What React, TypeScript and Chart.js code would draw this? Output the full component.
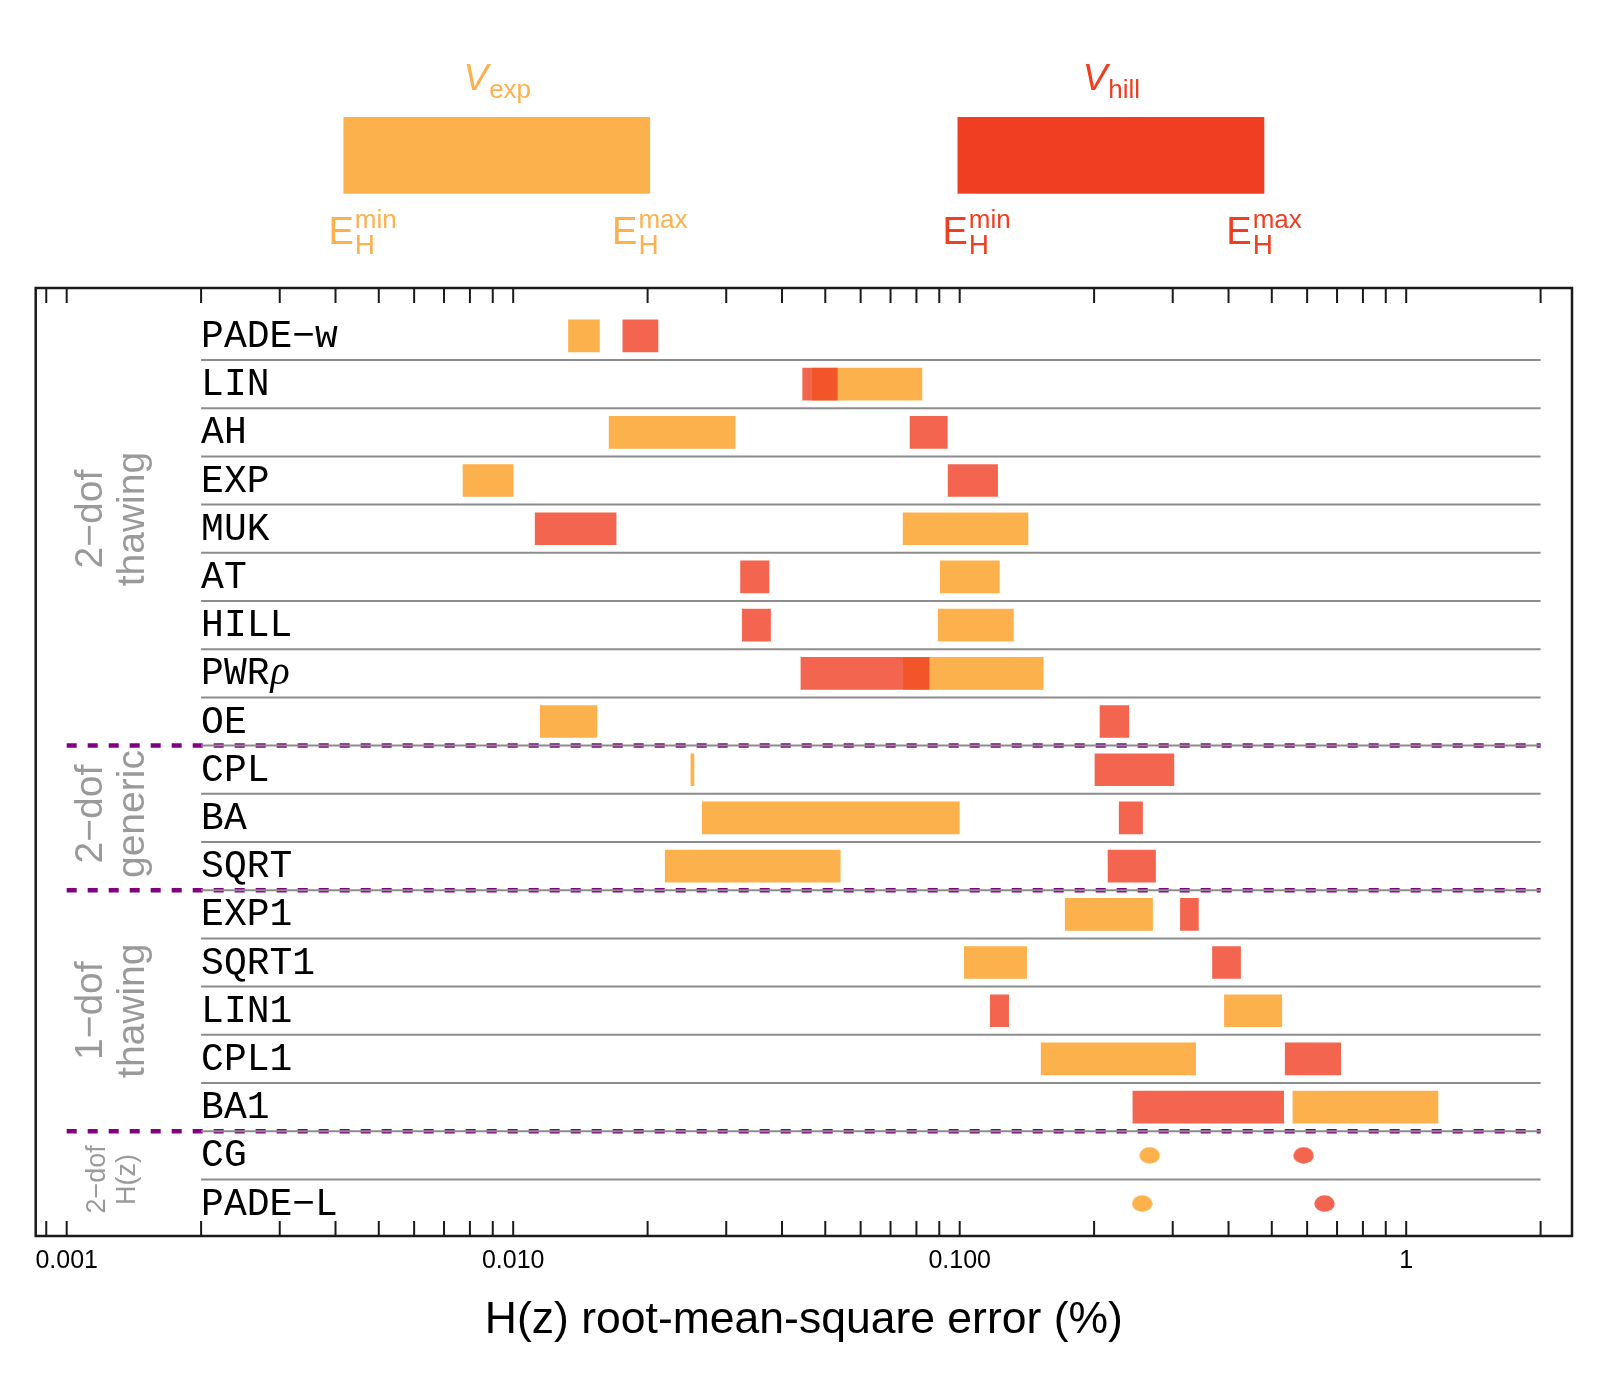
import React, { useEffect, useRef } from 'react';
import { Chart, registerables } from 'chart.js';

Chart.register(...registerables);

// ---------------- data ----------------
const categories = [
  'PADE−w', 'LIN', 'AH', 'EXP', 'MUK', 'AT', 'HILL', 'PWRρ', 'OE',
  'CPL', 'BA', 'SQRT',
  'EXP1', 'SQRT1', 'LIN1', 'CPL1', 'BA1',
  'CG', 'PADE−L',
];

// V_exp (orange) ranges [min, max] of E_H, in %
const expMin = [0.0133, 0.0468, 0.0164, 0.00772, 0.0747, 0.0905, 0.0895, 0.0748, 0.0115,
  0.0250, 0.0265, 0.0219,
  0.1723, 0.1024, 0.3916, 0.1522, 0.5575,
  null, null];
const expMax = [0.0156, 0.0823, 0.0314, 0.0100, 0.1422, 0.1227, 0.1319, 0.1538, 0.0154,
  0.0254, 0.0998, 0.0540,
  0.2703, 0.1412, 0.5264, 0.3377, 1.178,
  null, null];

// V_hill (red) ranges [min, max] of E_H, in %
const hillMin = [0.0176, 0.0445, 0.0774, 0.0942, 0.0112, 0.0323, 0.0326, 0.0441, 0.2062,
  0.2009, 0.2276, 0.2149,
  0.3121, 0.3683, 0.1171, 0.5358, 0.2443,
  null, null];
const hillMax = [0.0211, 0.0532, 0.0938, 0.1216, 0.0170, 0.0374, 0.0377, 0.0854, 0.2392,
  0.3018, 0.2567, 0.2745,
  0.3424, 0.4256, 0.1287, 0.7134, 0.5316,
  null, null];

// single-value models (drawn as dots)
const expPoint = [null, null, null, null, null, null, null, null, null, null, null, null,
  null, null, null, null, null, 0.2663, 0.2562];
const hillPoint = [null, null, null, null, null, null, null, null, null, null, null, null,
  null, null, null, null, null, 0.5892, 0.6562];

// groups (rotated labels) and dashed dividers (in row units)
const groupLines = [['2−dof', 'thawing'], ['2−dof', 'generic'], ['1−dof', 'thawing'], ['2−dof', 'H(z)']];
const groupCenters = [3.8, 9.92, 14.0, 17.5];
const groupDividers = [8.5, 11.5, 16.5];

const tickLabelValues = [0.001, 0.01, 0.1, 1];
const tickLabels = ['0.001', '0.010', '0.100', '1'];
const axisTitle = 'H(z) root-mean-square error (%)';

const X_MIN = 0.0008523;
const X_MAX = 2.3514;
const Y_MIN = -0.994;
const Y_MAX = 18.674;

const ORANGE = '#FDB14C';
const RED_SOLID = 'rgb(240,62,34)';
const RED = 'rgba(240,62,34,0.8)';

export default function App() {
  const ref = useRef<HTMLCanvasElement>(null);

  useEffect(() => {
    document.body.style.margin = '0';
    const canvas = ref.current!;

    const ellipse = (color: string) => {
      const c = document.createElement('canvas');
      c.width = 21;
      c.height = 17;
      const g = c.getContext('2d')!;
      g.fillStyle = color;
      g.beginPath();
      g.ellipse(10.5, 8.5, 10.2, 8.3, 0, 0, Math.PI * 2);
      g.fill();
      return c;
    };

    const tickValues: number[] = [0.0009];
    for (const dec of [0.001, 0.01, 0.1]) for (let k = 1; k <= 9; k++) tickValues.push(dec * k);
    tickValues.push(1, 2);

    const deco = {
      id: 'deco',
      beforeDatasetsDraw(chart: any) {
        const { ctx, chartArea: a, scales } = chart;
        const x = scales.x, y = scales.y;
        ctx.save();
        // purple dashed dividers
        ctx.strokeStyle = '#800080';
        ctx.lineWidth = 4.5;
        ctx.setLineDash([10, 11]);
        for (const d of groupDividers) {
          const py = y.getPixelForValue(d);
          ctx.beginPath();
          ctx.moveTo(x.getPixelForValue(0.001), py);
          ctx.lineTo(x.getPixelForValue(2), py);
          ctx.stroke();
        }
        ctx.setLineDash([]);
        // gray row separators
        ctx.strokeStyle = '#8c8c8c';
        ctx.lineWidth = 2;
        for (let i = 0; i < categories.length - 1; i++) {
          const py = y.getPixelForValue(i + 0.5);
          ctx.beginPath();
          ctx.moveTo(x.getPixelForValue(0.002), py);
          ctx.lineTo(x.getPixelForValue(2), py);
          ctx.stroke();
        }
        // category labels
        ctx.fillStyle = '#000';
        ctx.textAlign = 'left';
        ctx.textBaseline = 'alphabetic';
        const lx = x.getPixelForValue(0.002);
        categories.forEach((c, i) => {
          const py = y.getPixelForValue(i) + 11;
          ctx.font = '38px "Liberation Mono", monospace';
          if (c.endsWith('ρ')) {
            const base = c.slice(0, -1);
            ctx.fillText(base, lx, py);
            const w = ctx.measureText(base).width;
            ctx.font = 'italic 40px "Liberation Serif", serif';
            ctx.fillText('ρ', lx + w + 1, py);
          } else {
            ctx.fillText(c, lx, py);
          }
        });
        // group labels (rotated)
        ctx.fillStyle = '#9a9a9a';
        ctx.textAlign = 'center';
        groupLines.forEach((lines, gi) => {
          const small = gi === 3;
          const cy = y.getPixelForValue(groupCenters[gi]);
          ctx.save();
          ctx.translate(0, cy);
          ctx.rotate(-Math.PI / 2);
          ctx.font = (small ? '27px' : '39px') + ' "Liberation Sans", Arial, sans-serif';
          const b1 = a.left + (small ? 69.5 : 66.3);
          const b2 = a.left + (small ? 99.5 : 107.8);
          ctx.fillText(lines[0], 0, b1);
          ctx.fillText(lines[1], 0, b2);
          ctx.restore();
        });
        ctx.restore();
      },
      afterDraw(chart: any) {
        const { ctx, chartArea: a, scales } = chart;
        const x = scales.x;
        ctx.save();
        // frame
        ctx.strokeStyle = '#1a1a1a';
        ctx.lineWidth = 2.5;
        ctx.strokeRect(a.left, a.top, a.right - a.left, a.bottom - a.top);
        // inward ticks top and bottom
        ctx.lineWidth = 2;
        for (const v of tickValues) {
          const px = x.getPixelForValue(v);
          ctx.beginPath();
          ctx.moveTo(px, a.top);
          ctx.lineTo(px, a.top + 15);
          ctx.moveTo(px, a.bottom);
          ctx.lineTo(px, a.bottom - 15);
          ctx.stroke();
        }
        // tick labels
        ctx.fillStyle = '#000';
        ctx.textAlign = 'center';
        ctx.textBaseline = 'alphabetic';
        ctx.font = '25px "Liberation Sans", Arial, sans-serif';
        tickLabelValues.forEach((v, i) => {
          ctx.fillText(tickLabels[i], x.getPixelForValue(v), a.bottom + 32);
        });
        // axis title
        ctx.font = '44.5px "Liberation Sans", Arial, sans-serif';
        ctx.fillText(axisTitle, (a.left + a.right) / 2, a.bottom + 97);

        // legend
        const legend = [
          { color: ORANGE, box: ORANGE, sub: 'exp', l: 343.4, r: 650.1 },
          { color: RED_SOLID, box: RED_SOLID, sub: 'hill', l: 957.5, r: 1264.3 },
        ];
        for (const it of legend) {
          ctx.fillStyle = it.box;
          ctx.fillRect(it.l, 117, it.r - it.l, 76.7);
          ctx.fillStyle = it.color;
          // V_sub title
          ctx.textAlign = 'left';
          ctx.font = 'italic 37px "Liberation Sans", Arial, sans-serif';
          const wV = ctx.measureText('V').width;
          ctx.font = '26px "Liberation Sans", Arial, sans-serif';
          const wS = ctx.measureText(it.sub).width;
          const sx = (it.l + it.r) / 2 - (wV + wS) / 2;
          ctx.font = 'italic 37px "Liberation Sans", Arial, sans-serif';
          ctx.fillText('V', sx, 90);
          ctx.font = '26px "Liberation Sans", Arial, sans-serif';
          ctx.fillText(it.sub, sx + wV + 1, 98);
          // E_H^min / E_H^max
          const drawE = (x0: number, sup: string) => {
            ctx.font = '38px "Liberation Sans", Arial, sans-serif';
            ctx.fillText('E', x0, 244);
            const wE = ctx.measureText('E').width;
            ctx.font = '26px "Liberation Sans", Arial, sans-serif';
            ctx.fillText(sup, x0 + wE + 1, 228);
            ctx.font = '28px "Liberation Sans", Arial, sans-serif';
            ctx.fillText('H', x0 + wE + 1, 254);
          };
          drawE(it.l - 15, 'min');
          drawE(it.r - 38, 'max');
        }
        ctx.restore();
      },
    };

    const expBars: any[] = [];
    const hillBars: any[] = [];
    const expDots: any[] = [];
    const hillDots: any[] = [];
    categories.forEach((_, i) => {
      if (expMin[i] != null) expBars.push({ x: [expMin[i], expMax[i]], y: i });
      if (hillMin[i] != null) hillBars.push({ x: [hillMin[i], hillMax[i]], y: i });
      if (expPoint[i] != null) expDots.push({ x: expPoint[i], y: i });
      if (hillPoint[i] != null) hillDots.push({ x: hillPoint[i], y: i });
    });

    const chart = new Chart(canvas, {
      type: 'bar',
      data: {
        datasets: [
          {
            type: 'bar', label: 'V_hill', data: hillBars, backgroundColor: RED,
            barThickness: 32, grouped: false, order: 1, borderWidth: 0,
          } as any,
          {
            type: 'bar', label: 'V_exp', data: expBars, backgroundColor: ORANGE,
            barThickness: 32, grouped: false, order: 2, borderWidth: 0,
          } as any,
          {
            type: 'scatter', label: 'V_exp single', data: expDots, pointStyle: ellipse(ORANGE),
            pointRadius: 10, order: 0, showLine: false,
          } as any,
          {
            type: 'scatter', label: 'V_hill single', data: hillDots, pointStyle: ellipse(RED),
            pointRadius: 10, order: 0, showLine: false,
          } as any,
        ],
      },
      options: {
        indexAxis: 'y',
        responsive: false,
        animation: false,
        devicePixelRatio: 1,
        events: [],
        layout: { padding: { left: 35.7, right: 29, top: 288, bottom: 145 } },
        plugins: { legend: { display: false }, tooltip: { enabled: false } },
        scales: {
          x: { type: 'logarithmic', min: X_MIN, max: X_MAX, display: false, bounds: 'data', offset: false },
          y: { type: 'linear', min: Y_MIN, max: Y_MAX, reverse: true, display: false, bounds: 'data', offset: false, beginAtZero: false },
        },
      } as any,
      plugins: [deco],
    });
    return () => chart.destroy();
  }, []);

  return (
    <div style={{ width: 1601, height: 1381, background: '#fff' }}>
      <canvas ref={ref} width={1601} height={1381} style={{ display: 'block', width: 1601, height: 1381 }} />
    </div>
  );
}
